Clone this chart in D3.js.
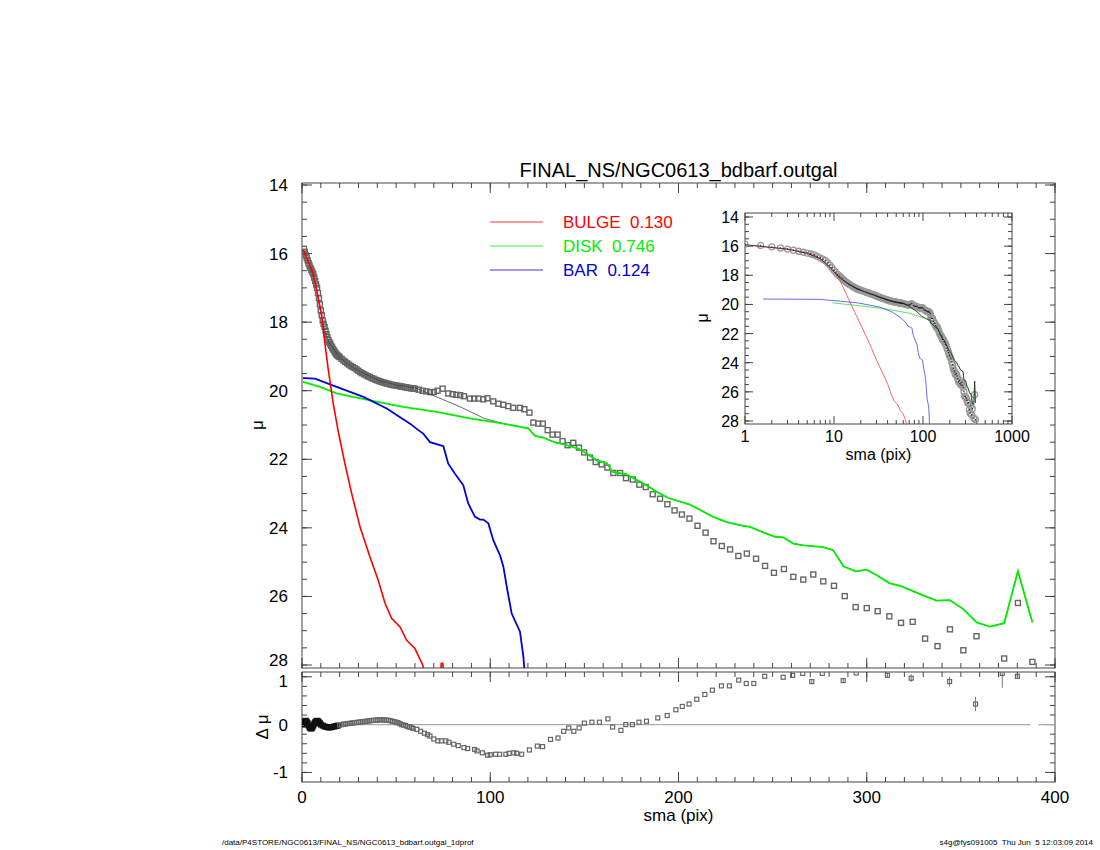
<!DOCTYPE html>
<html><head><meta charset="utf-8">
<script src="https://cdn.jsdelivr.net/npm/d3@7"></script>
<style>body{margin:0;background:#fff}text{font-family:"Liberation Sans",Arial,sans-serif}</style>
</head><body><svg id="c" width="1100" height="850"></svg>
<script>
// ---- data ----
const dataSma = [1,2,3,4,5,6,7,8,9,10,11,12,13,14,15,16,17,18,19,20,22,24,26,28,30,32,34,36,38,40,42,44,46,48,50,52,54,56,58,60,62,64,66,68,70,72,74.7,77.7,80,82,84,86,89.2,91.5,93.7,96.3,98.5,101.6,104.3,106.9,109.5,112.2,115.8,118.1,120.8,122.9,125.5,127.9,130.5,133.1,135.8,138.4,141.1,144.1,147.1,149.9,153,156,159.2,162.2,165.4,169,172.1,175.7,179.2,182.6,186.3,190.2,194.1,197.9,201.8,205.8,210.1,214.4,218.6,223,227.4,231.8,236.3,241.2,246,250.7,256,261,266.3,271.6,276.9,282.6,288.3,294.1,300,305.8,312,318.2,324.4,331,337.6,344.2,351.3,358.3,373,380.3,388];
const dataMu  = [15.86,16.05,16.2,16.35,16.48,16.6,16.8,17.0,17.3,17.66,17.95,18.14,18.35,18.52,18.63,18.74,18.83,18.92,18.98,19.02,19.12,19.2,19.28,19.34,19.42,19.49,19.55,19.6,19.65,19.7,19.74,19.77,19.8,19.83,19.85,19.87,19.89,19.91,19.93,19.94,19.97,20.0,20.02,20.04,20.04,20.0,19.94,20.08,20.1,20.12,20.13,20.16,20.23,20.23,20.23,20.25,20.22,20.31,20.38,20.41,20.45,20.5,20.5,20.54,20.64,20.93,20.96,20.96,21.15,21.28,21.28,21.47,21.59,21.52,21.66,21.8,21.95,22.08,22.15,22.24,22.4,22.4,22.55,22.59,22.74,22.81,23.02,23.15,23.31,23.49,23.61,23.73,23.94,24.14,24.39,24.53,24.63,24.82,24.75,24.9,25.11,25.31,25.2,25.43,25.51,25.36,25.56,25.69,25.99,26.31,26.34,26.43,26.58,26.77,26.74,27.23,27.45,26.96,27.57,27.16,27.81,26.19,27.91];
const dataSmaInner = [1.5,2.5,3.5,4.5,5.5,6.5,7.5,8.5,9.5,10.5,11.5,12.5,13.5,14.5,15.5,16.5,17.5,18.5,19.5,21,23,25,27,29,31,33,35,37,39,41,43,45,47,49,51,53,55,57,59];
const dataMuInner  = [15.95,16.12,16.28,16.42,16.54,16.7,16.9,17.15,17.48,17.8,18.05,18.25,18.44,18.58,18.69,18.79,18.88,18.95,19.0,19.07,19.16,19.24,19.31,19.38,19.46,19.52,19.58,19.63,19.68,19.72,19.76,19.79,19.82,19.84,19.86,19.88,19.9,19.92,19.935];

const bulgeSma = [0.5,1.2,3.4,6.0,7.8,10.5,12.2,14.0,16.6,19.3,22.8,26.4,30.8,36.1,40.5,44.1,47.6,52.1,55.6,60,64.1,66];
const bulgeMu  = [15.9,15.96,16.25,16.59,17.07,17.8,18.63,19.4,20.38,21.2,22.13,23.0,23.97,24.85,25.53,26.2,26.64,26.89,27.28,27.52,28.0,28.4];
const bulge2Sma = [73.6,74.0,74.8,75.3];
const bulge2Mu  = [28.3,27.95,27.95,28.3];

const diskSma = [0.5,9.6,18.4,36.1,53.8,71.5,89.2,107,120.2,123.8,128.2,134.4,138.8,146.8,151.2,156.5,161.9,165,172.5,183.1,188.4,194.6,206.1,218.5,225.6,234.4,238,245,251.3,255.7,261,266.3,276.9,282.2,287.6,294.1,300,305.3,312,318.2,330,337.1,344.2,351.3,358.4,365.5,373,380.3,388];
const diskMu  = [19.74,19.89,20.08,20.28,20.47,20.62,20.81,20.96,21.1,21.32,21.37,21.51,21.56,21.69,21.83,22.03,22.11,22.37,22.44,22.76,22.95,23.13,23.32,23.68,23.83,23.94,23.97,24.13,24.26,24.28,24.46,24.51,24.56,24.65,25.12,25.27,25.22,25.38,25.61,25.7,25.97,26.12,26.11,26.37,26.76,26.88,26.78,25.26,26.76];

const barSma = [0.5,1.6,6.9,18.4,32.6,45,57.4,61.8,64.4,68.0,72.4,75.1,77.7,81,85.7,88.3,91.9,94.6,96.3,99,101.6,105.2,107,109.1,111.4,115.8,117.6,118.4];
const barMu  = [19.63,19.63,19.65,19.89,20.18,20.52,20.96,21.15,21.25,21.5,21.57,21.62,22.13,22.4,22.76,23.29,23.68,23.76,23.76,23.87,24.36,24.8,25.14,25.82,26.5,27.03,27.76,28.3];

const totEarlySma = [1,3,5,7,9,11,13,15,20,25,30,40,50,55,61,68,75,84,97,107];
const totEarlyMu  = [15.9,16.2,16.5,16.85,17.45,18.05,18.4,18.65,19.03,19.25,19.42,19.68,19.84,19.88,19.93,20.1,20.26,20.47,20.81,20.96];

const resSma = [0.5,1,2,3,4,5,6,7,8,9,10,12,14,16,18,20,22,26,30,34,38,42,46,50,53,57,61,66.7,72.2,76.4,80.6,86,91.7,95.8,98.6,102.8,108.3,112.5,116.7,120.8,125,127.8,132,136,139,141.7,144.4,147.2,150,154,158,162.5,165,169.4,172,175.5,179,183,189,194,198.6,202,205.6,209.7,214,218,222.8,227,232,236,240,245.8,255.6,260.6,266,270.8,276.4,287.5,294.4,311,323.6,344,357.8,372,380];
const resVal = [0,0.05,0.08,0.03,-0.06,-0.08,-0.02,0.05,0.08,0.05,0,-0.04,-0.06,-0.05,-0.03,-0.01,0.01,0.03,0.05,0.07,0.09,0.1,0.09,0.05,0,-0.05,-0.1,-0.21,-0.34,-0.34,-0.41,-0.48,-0.52,-0.59,-0.64,-0.62,-0.62,-0.59,-0.62,-0.53,-0.45,-0.46,-0.31,-0.28,-0.14,-0.07,-0.14,-0.07,0.03,0.05,0.05,0.12,-0.05,-0.12,0,0,0.05,0.07,0.14,0.19,0.31,0.38,0.43,0.53,0.63,0.72,0.81,0.81,0.93,0.86,0.86,1.01,0.99,1.03,1.07,0.9,1.07,0.92,1.08,1.03,0.97,0.9,0.43,1.07,1.01];
const resSmaInner = [1.5,2.5,3.5,4.5,5.5,6.5,7.5,8.5,9.5,11,13,15,17,19,21,23,24,25,27,28,29,31,32,33,35,36,37,39,40,41,43,44,45,47,48,49,51,52,54,55,56,58,59,63,65,68,70,74,78,83,88,93,100,105,110,114];
const resValInner = [0.07,0.06,-0.02,-0.08,-0.06,0.02,0.07,0.07,0.03,-0.02,-0.05,-0.06,-0.04,-0.02,0,0.01,0.02,0.025,0.035,0.04,0.045,0.055,0.06,0.065,0.075,0.08,0.085,0.09,0.095,0.1,0.1,0.095,0.09,0.08,0.07,0.06,0.04,0.02,-0.01,-0.02,-0.04,-0.06,-0.08,-0.14,-0.18,-0.24,-0.3,-0.34,-0.37,-0.44,-0.5,-0.55,-0.63,-0.62,-0.6,-0.6];
const resErrSma = [270.8,287.5,311,323.6,344,357.8,372,380];
const resErr    = [0.03,0.04,0.04,0.08,0.1,0.15,0.3,0.04];

const legendNames = ["BULGE  0.130","DISK  0.746","BAR  0.124"];
const legendColors = ["#ff0000","#00ee00","#0000dd"];
const xTicks = [0,100,200,300,400];
const yTicks = [14,16,18,20,22,24,26,28];
const resTicks = [-1,0,1];
const insetXTicks = [1,10,100,1000];

// ---- drawing ----
const svg = d3.select("#c");
const zip=(a,b)=>a.map((v,i)=>[v,b[i]]);
const bySma=(a,b)=>a[0]-b[0];
const data=zip(dataSma,dataMu).concat(zip(dataSmaInner,dataMuInner)).sort(bySma),
  bulge=zip(bulgeSma,bulgeMu), bulge2=zip(bulge2Sma,bulge2Mu),
  disk=zip(diskSma,diskMu), bar=zip(barSma,barMu),
  total=zip(totEarlySma,totEarlyMu).concat(disk.filter(d=>d[0]>110)),
  res=zip(resSma,resVal).concat(zip(resSmaInner,resValInner)).sort(bySma);
const L=302,R=1055,T=183,B=668;
const x=d3.scaleLinear().domain([0,400]).range([L,R]);
const y=d3.scaleLinear().domain([14,28]).range([185,665]);
const axisCol="#444";
function frame(x0,y0,x1,y1){svg.append("rect").attr("x",x0).attr("y",y0).attr("width",x1-x0).attr("height",y1-y0).attr("fill","none").attr("stroke",axisCol).attr("stroke-width",1);}
function ticksX(sc,vals,y0,y1,len){vals.forEach(v=>{const px=sc(v);svg.append("line").attr("x1",px).attr("x2",px).attr("y1",y1).attr("y2",y1-len).attr("stroke",axisCol);svg.append("line").attr("x1",px).attr("x2",px).attr("y1",y0).attr("y2",y0+len).attr("stroke",axisCol);});}
function ticksY(sc,vals,x0,x1,len){vals.forEach(v=>{const py=sc(v);svg.append("line").attr("y1",py).attr("y2",py).attr("x1",x0).attr("x2",x0+len).attr("stroke",axisCol);svg.append("line").attr("y1",py).attr("y2",py).attr("x1",x1).attr("x2",x1-len).attr("stroke",axisCol);});}
const clip=(id,x0,y0,x1,y1)=>svg.append("clipPath").attr("id",id).append("rect").attr("x",x0).attr("y",y0).attr("width",x1-x0).attr("height",y1-y0);

// main panel
clip("cm",L,T,R,B);
frame(L,T,R,B);
ticksX(x,d3.range(0,401,10),T,B,5); ticksX(x,xTicks,T,B,10);
ticksY(y,d3.range(14,28.01,0.5),L,R,5); ticksY(y,yTicks,L,R,10);
yTicks.forEach(v=>svg.append("text").attr("x",L-14).attr("y",y(v)+(v===28?1:6)).attr("text-anchor","end").attr("font-size",17).text(v));
svg.append("text").attr("x",263).attr("y",425).attr("font-size",17).attr("text-anchor","middle").attr("transform","rotate(-90,263,425)").text("μ");
svg.append("text").attr("x",(L+R)/2).attr("y",177).attr("text-anchor","middle").attr("font-size",20).text("FINAL_NS/NGC0613_bdbarf.outgal");
const gm=svg.append("g").attr("clip-path","url(#cm)");
const line=d3.line().x(d=>x(d[0])).y(d=>y(d[1]));
gm.selectAll(".sq").data(data).join("rect").attr("x",d=>x(d[0])-2.5).attr("y",d=>y(d[1])-2.5).attr("width",5).attr("height",5).attr("fill","none").attr("stroke","#666").attr("stroke-width",1.4);
gm.append("path").attr("d",line(total)).attr("fill","none").attr("stroke","#444").attr("stroke-width",0.8);
gm.append("path").attr("d",line(disk)).attr("fill","none").attr("stroke","#00ee00").attr("stroke-width",1.8);
gm.append("path").attr("d",line(bar)).attr("fill","none").attr("stroke","#0000dd").attr("stroke-width",1.8);
gm.append("path").attr("d",line(bulge)).attr("fill","none").attr("stroke","#ff0000").attr("stroke-width",1.6);
gm.append("path").attr("d",line(bulge2)).attr("fill","none").attr("stroke","#ff0000").attr("stroke-width",1.6);
legendNames.forEach((n,i)=>{const yy=222+i*24;
 svg.append("line").attr("x1",490).attr("x2",543).attr("y1",yy).attr("y2",yy).attr("stroke",legendColors[i]).attr("stroke-width",0.8);
 svg.append("text").attr("x",563).attr("y",yy+6).attr("font-size",17).attr("fill",legendColors[i]).attr("xml:space","preserve").text(n);});

// residual panel
const RT=672,RB=782;
const yr=d3.scaleLinear().domain([-1.2,1.1]).range([RB,RT]);
clip("cr",L,RT,R,RB);
frame(L,RT,R,RB);
ticksX(x,d3.range(0,401,10),RT,RB,5); ticksX(x,xTicks,RT,RB,10);
ticksY(yr,d3.range(-1,1.01,0.2),L,R,5); ticksY(yr,resTicks,L,R,10);
resTicks.forEach(v=>svg.append("text").attr("x",L-14).attr("y",yr(v)+(v===1?10:6)).attr("text-anchor","end").attr("font-size",17).text(v));
svg.append("text").attr("x",268).attr("y",727).attr("font-size",17).attr("text-anchor","middle").attr("transform","rotate(-90,268,727)").text("Δ μ");
xTicks.forEach(v=>svg.append("text").attr("x",x(v)).attr("y",803).attr("text-anchor","middle").attr("font-size",17).text(v));
svg.append("text").attr("x",(L+R)/2).attr("y",821).attr("text-anchor","middle").attr("font-size",17).text("sma (pix)");
const gr=svg.append("g").attr("clip-path","url(#cr)");
gr.append("line").attr("x1",x(0)).attr("x2",x(387)).attr("y1",yr(0)).attr("y2",yr(0)).attr("stroke","#aaa").attr("stroke-width",1.2);
gr.append("line").attr("x1",x(391)).attr("x2",x(400)).attr("y1",yr(0)).attr("y2",yr(0)).attr("stroke","#aaa").attr("stroke-width",1.2);
resErrSma.forEach((s,i)=>{const v=res.find(d=>d[0]===s)[1];gr.append("line").attr("x1",x(s)).attr("x2",x(s)).attr("y1",yr(v-resErr[i])).attr("y2",yr(v+resErr[i])).attr("stroke","#555").attr("stroke-width",0.8);});
gr.selectAll(".rs").data(res).join("rect").attr("x",d=>x(d[0])-2).attr("y",d=>yr(d[1])-2).attr("width",4).attr("height",4).attr("fill","none").attr("stroke",d=>d[0]<20?"#111":"#666").attr("stroke-width",d=>d[0]<20?2:1.2);

// inset
const IL=745,IR=1012,IT=213,IB=424;
const xi=d3.scaleLog().domain([1,1000]).range([IL,IR]);
const yi=d3.scaleLinear().domain([14,28]).range([217,421]);
clip("ci",IL,IT,IR,IB);
frame(IL,IT,IR,IB);
const minorLog=[];[1,10,100].forEach(d=>{for(let k=2;k<10;k++)minorLog.push(d*k);});
ticksX(xi,minorLog,IT,IB,4); ticksX(xi,insetXTicks,IT,IB,8);
ticksY(yi,d3.range(14,28.01,0.5),IL,IR,4); ticksY(yi,yTicks,IL,IR,8);
yTicks.forEach(v=>svg.append("text").attr("x",IL-6).attr("y",yi(v)+6).attr("text-anchor","end").attr("font-size",16).text(v));
insetXTicks.forEach(v=>svg.append("text").attr("x",xi(v)).attr("y",442).attr("text-anchor","middle").attr("font-size",16).text(v));
svg.append("text").attr("x",(IL+IR)/2).attr("y",460).attr("text-anchor","middle").attr("font-size",16).text("sma (pix)");
svg.append("text").attr("x",708).attr("y",318).attr("font-size",16).attr("text-anchor","middle").attr("transform","rotate(-90,708,318)").text("μ");
const gi=svg.append("g").attr("clip-path","url(#ci)");
const lineI=d3.line().x(d=>xi(d[0])).y(d=>yi(d[1]));
const pos=a=>a.filter(d=>d[0]>=1);
gi.selectAll(".ic").data(data).join("circle").attr("cx",d=>xi(d[0])).attr("cy",d=>yi(d[1])).attr("r",3).attr("fill","none").attr("stroke","#999").attr("stroke-width",1.3);
gi.append("path").attr("d",lineI(pos(disk))).attr("fill","none").attr("stroke","#33dd33").attr("stroke-width",0.8);
gi.append("path").attr("d",lineI(pos(bar))).attr("fill","none").attr("stroke","#4444ee").attr("stroke-width",0.8);
gi.append("path").attr("d",lineI(pos(bulge))).attr("fill","none").attr("stroke","#ee4444").attr("stroke-width",0.8);
gi.append("path").attr("d",lineI(pos(total))).attr("fill","none").attr("stroke","#333").attr("stroke-width",0.9);
gi.selectAll(".id").data(data).join("circle").attr("cx",d=>xi(d[0])).attr("cy",d=>yi(d[1])).attr("r",0.7).attr("fill","#222");

// footer
svg.append("text").attr("x",222).attr("y",845).attr("font-size",8).text("/data/P4STORE/NGC0613/FINAL_NS/NGC0613_bdbarf.outgal_1dprof");
svg.append("text").attr("x",1093).attr("y",845).attr("font-size",8).attr("text-anchor","end").attr("xml:space","preserve").text("s4g@fys091005  Thu Jun  5 12:03:09 2014");
</script></body></html>
